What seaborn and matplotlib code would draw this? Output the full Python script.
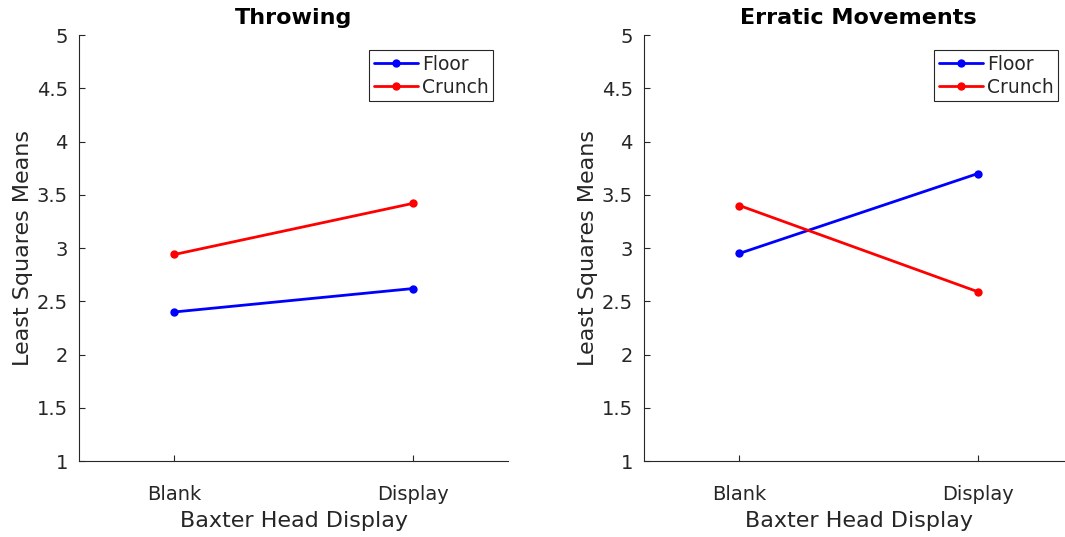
import numpy as np
import pandas as pd
import matplotlib
matplotlib.use("Agg")
import matplotlib.pyplot as plt
import seaborn as sns

conditions = ["Blank", "Display"]
groups = ["Floor", "Crunch"]
titles = ["Throwing", "Erratic Movements"]
throwing_floor = [2.40, 2.62]
throwing_crunch = [2.94, 3.42]
erratic_floor = [2.95, 3.70]
erratic_crunch = [3.40, 2.59]
yticks = [1, 1.5, 2, 2.5, 3, 3.5, 4, 4.5, 5]
ytick_labels = ["1", "1.5", "2", "2.5", "3", "3.5", "4", "4.5", "5"]

sns.set_theme(style="ticks")
plt.rcParams["font.family"] = ["DejaVu Sans"]

def make_df(floor, crunch):
    rows = []
    for g, vals in zip(groups, [floor, crunch]):
        for i, v in enumerate(vals):
            rows.append({"pos": i, "cond": conditions[i], "group": g, "value": v})
    return pd.DataFrame(rows)

dfs = [make_df(throwing_floor, throwing_crunch), make_df(erratic_floor, erratic_crunch)]

fig = plt.figure(figsize=(10.65, 5.37), dpi=100)
positions = [[0.0742, 0.1415, 0.403, 0.793], [0.6047, 0.1415, 0.403, 0.793]]
palette = {"Floor": "#0000ff", "Crunch": "#ff0000"}
grey = "#262626"

for pos, df, title in zip(positions, dfs, titles):
    ax = fig.add_axes(pos)
    sns.lineplot(data=df, x="pos", y="value", hue="group", hue_order=groups,
                 palette=palette, marker="o", markersize=6, markeredgewidth=0,
                 linewidth=2, ax=ax, legend=True)
    ax.set_xlim(-0.4, 1.4)
    ax.set_ylim(1, 5)
    ax.set_xticks([0, 1])
    ax.set_xticklabels(conditions)
    ax.set_yticks(yticks)
    ax.set_yticklabels(ytick_labels)
    ax.tick_params(direction="in", length=4, width=0.8, colors=grey, labelsize=14,
                   labelcolor=grey)
    ax.tick_params(axis="y", pad=8)
    ax.tick_params(axis="x", pad=17)
    for s in ["top", "right"]:
        ax.spines[s].set_visible(False)
    for s in ["left", "bottom"]:
        ax.spines[s].set_color(grey)
        ax.spines[s].set_linewidth(0.8)
    ax.set_xlabel("Baxter Head Display", fontsize=16, color=grey, labelpad=5)
    ax.set_ylabel("Least Squares Means", fontsize=16, color=grey, labelpad=3)
    ax.set_title(title, fontsize=16, fontweight="bold", color="black", pad=8)
    leg = ax.legend(loc="upper right", fontsize=13.5, frameon=True, fancybox=False,
                    edgecolor=grey, framealpha=1, handlelength=2.35, handletextpad=0.2,
                    borderpad=0.25, labelspacing=0.2, borderaxespad=0.8)
    leg.get_frame().set_linewidth(0.8)

fig.savefig("out.png", dpi=100)
